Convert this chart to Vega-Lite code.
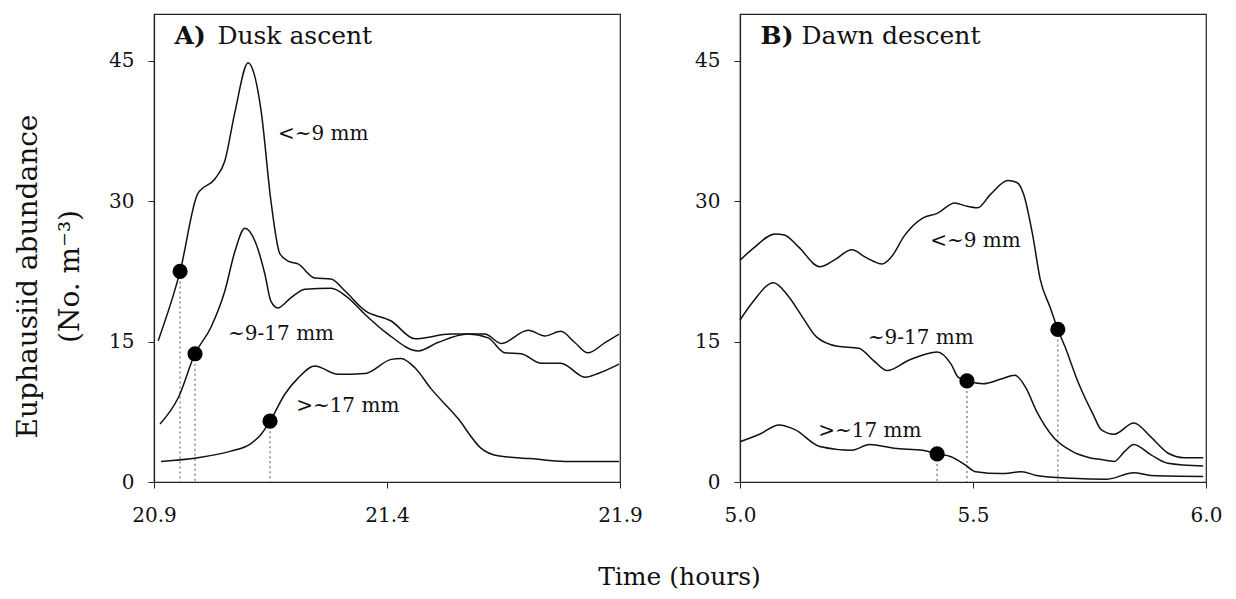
{
  "$schema": "https://vega.github.io/schema/vega-lite/v6.json",
  "background": "white",
  "padding": {"left": 13, "top": 13, "right": 5, "bottom": 8},
  "datasets": {
    "linesA": [
      {"series": "small", "t": 20.909, "v": 15.1}, {"series": "small", "t": 20.956, "v": 22.5}, {"series": "small", "t": 20.994, "v": 30.8}, {"series": "small", "t": 21.031, "v": 32.4}, {"series": "small", "t": 21.052, "v": 34.3}, {"series": "small", "t": 21.074, "v": 39.6}, {"series": "small", "t": 21.102, "v": 44.8}, {"series": "small", "t": 21.117, "v": 43.2}, {"series": "small", "t": 21.130, "v": 39.6}, {"series": "small", "t": 21.151, "v": 30.0}, {"series": "small", "t": 21.170, "v": 24.4}, {"series": "small", "t": 21.188, "v": 23.6}, {"series": "small", "t": 21.209, "v": 23.3}, {"series": "small", "t": 21.245, "v": 21.8}, {"series": "small", "t": 21.280, "v": 21.7}, {"series": "small", "t": 21.310, "v": 20.4}, {"series": "small", "t": 21.353, "v": 18.3}, {"series": "small", "t": 21.409, "v": 17.2}, {"series": "small", "t": 21.460, "v": 15.3}, {"series": "small", "t": 21.537, "v": 15.8}, {"series": "small", "t": 21.589, "v": 15.8}, {"series": "small", "t": 21.610, "v": 15.8}, {"series": "small", "t": 21.645, "v": 14.8}, {"series": "small", "t": 21.703, "v": 16.2}, {"series": "small", "t": 21.739, "v": 15.6}, {"series": "small", "t": 21.773, "v": 16.1}, {"series": "small", "t": 21.803, "v": 14.9}, {"series": "small", "t": 21.831, "v": 13.8}, {"series": "small", "t": 21.868, "v": 14.9}, {"series": "small", "t": 21.898, "v": 15.8},
      {"series": "mid", "t": 20.913, "v": 6.2}, {"series": "mid", "t": 20.952, "v": 9.0}, {"series": "mid", "t": 20.988, "v": 13.7}, {"series": "mid", "t": 21.022, "v": 16.5}, {"series": "mid", "t": 21.052, "v": 20.4}, {"series": "mid", "t": 21.074, "v": 24.7}, {"series": "mid", "t": 21.095, "v": 27.1}, {"series": "mid", "t": 21.117, "v": 25.7}, {"series": "mid", "t": 21.138, "v": 22.2}, {"series": "mid", "t": 21.151, "v": 19.3}, {"series": "mid", "t": 21.166, "v": 18.6}, {"series": "mid", "t": 21.194, "v": 19.7}, {"series": "mid", "t": 21.224, "v": 20.6}, {"series": "mid", "t": 21.280, "v": 20.7}, {"series": "mid", "t": 21.316, "v": 19.7}, {"series": "mid", "t": 21.353, "v": 17.9}, {"series": "mid", "t": 21.402, "v": 15.8}, {"series": "mid", "t": 21.467, "v": 14.0}, {"series": "mid", "t": 21.509, "v": 14.9}, {"series": "mid", "t": 21.574, "v": 15.8}, {"series": "mid", "t": 21.617, "v": 15.4}, {"series": "mid", "t": 21.653, "v": 13.8}, {"series": "mid", "t": 21.688, "v": 13.7}, {"series": "mid", "t": 21.730, "v": 12.7}, {"series": "mid", "t": 21.773, "v": 12.7}, {"series": "mid", "t": 21.825, "v": 11.2}, {"series": "mid", "t": 21.853, "v": 11.6}, {"series": "mid", "t": 21.898, "v": 12.6},
      {"series": "large", "t": 20.915, "v": 2.2}, {"series": "large", "t": 20.994, "v": 2.6}, {"series": "large", "t": 21.065, "v": 3.3}, {"series": "large", "t": 21.108, "v": 4.1}, {"series": "large", "t": 21.130, "v": 5.1}, {"series": "large", "t": 21.149, "v": 6.5}, {"series": "large", "t": 21.181, "v": 9.4}, {"series": "large", "t": 21.209, "v": 11.1}, {"series": "large", "t": 21.245, "v": 12.4}, {"series": "large", "t": 21.295, "v": 11.5}, {"series": "large", "t": 21.353, "v": 11.6}, {"series": "large", "t": 21.409, "v": 13.1}, {"series": "large", "t": 21.430, "v": 13.2}, {"series": "large", "t": 21.460, "v": 12.2}, {"series": "large", "t": 21.494, "v": 10.0}, {"series": "large", "t": 21.552, "v": 6.8}, {"series": "large", "t": 21.602, "v": 3.6}, {"series": "large", "t": 21.638, "v": 2.8}, {"series": "large", "t": 21.709, "v": 2.5}, {"series": "large", "t": 21.782, "v": 2.2}, {"series": "large", "t": 21.898, "v": 2.2}
    ],
    "dotsA": [
      {"series": "small", "t": 20.956, "v": 22.5},
      {"series": "mid", "t": 20.988, "v": 13.7},
      {"series": "large", "t": 21.149, "v": 6.5}
    ],
    "labelsA": [
      {"t": 21.166, "v": 37.2, "label": "<~9 mm"},
      {"t": 21.059, "v": 15.8, "label": "~9-17 mm"},
      {"t": 21.205, "v": 8.1, "label": ">~17 mm"}
    ],
    "linesB": [
      {"series": "small", "t": 5.0, "v": 23.7}, {"series": "small", "t": 5.027, "v": 24.9}, {"series": "small", "t": 5.076, "v": 26.5}, {"series": "small", "t": 5.095, "v": 26.4}, {"series": "small", "t": 5.126, "v": 25.1}, {"series": "small", "t": 5.171, "v": 23.0}, {"series": "small", "t": 5.202, "v": 23.7}, {"series": "small", "t": 5.24, "v": 24.8}, {"series": "small", "t": 5.27, "v": 24.0}, {"series": "small", "t": 5.305, "v": 23.3}, {"series": "small", "t": 5.324, "v": 24.0}, {"series": "small", "t": 5.354, "v": 26.4}, {"series": "small", "t": 5.392, "v": 28.2}, {"series": "small", "t": 5.423, "v": 28.7}, {"series": "small", "t": 5.461, "v": 29.8}, {"series": "small", "t": 5.484, "v": 29.5}, {"series": "small", "t": 5.51, "v": 29.3}, {"series": "small", "t": 5.537, "v": 30.7}, {"series": "small", "t": 5.575, "v": 32.2}, {"series": "small", "t": 5.594, "v": 32.0}, {"series": "small", "t": 5.609, "v": 30.7}, {"series": "small", "t": 5.628, "v": 26.4}, {"series": "small", "t": 5.644, "v": 21.7}, {"series": "small", "t": 5.666, "v": 18.6}, {"series": "small", "t": 5.682, "v": 16.3}, {"series": "small", "t": 5.697, "v": 14.5}, {"series": "small", "t": 5.727, "v": 10.5}, {"series": "small", "t": 5.758, "v": 7.2}, {"series": "small", "t": 5.775, "v": 5.6}, {"series": "small", "t": 5.803, "v": 5.1}, {"series": "small", "t": 5.845, "v": 6.3}, {"series": "small", "t": 5.882, "v": 4.8}, {"series": "small", "t": 5.918, "v": 3.1}, {"series": "small", "t": 5.953, "v": 2.6}, {"series": "small", "t": 5.994, "v": 2.6},
      {"series": "mid", "t": 5.0, "v": 17.3}, {"series": "mid", "t": 5.027, "v": 19.2}, {"series": "mid", "t": 5.072, "v": 21.3}, {"series": "mid", "t": 5.103, "v": 19.9}, {"series": "mid", "t": 5.133, "v": 17.7}, {"series": "mid", "t": 5.164, "v": 15.5}, {"series": "mid", "t": 5.209, "v": 14.5}, {"series": "mid", "t": 5.255, "v": 14.3}, {"series": "mid", "t": 5.286, "v": 13.0}, {"series": "mid", "t": 5.316, "v": 11.9}, {"series": "mid", "t": 5.362, "v": 13.0}, {"series": "mid", "t": 5.423, "v": 13.9}, {"series": "mid", "t": 5.453, "v": 12.6}, {"series": "mid", "t": 5.468, "v": 11.2}, {"series": "mid", "t": 5.487, "v": 10.8}, {"series": "mid", "t": 5.522, "v": 10.5}, {"series": "mid", "t": 5.56, "v": 11.0}, {"series": "mid", "t": 5.59, "v": 11.4}, {"series": "mid", "t": 5.613, "v": 10.1}, {"series": "mid", "t": 5.636, "v": 7.6}, {"series": "mid", "t": 5.674, "v": 4.7}, {"series": "mid", "t": 5.712, "v": 3.3}, {"series": "mid", "t": 5.75, "v": 2.6}, {"series": "mid", "t": 5.775, "v": 2.4}, {"series": "mid", "t": 5.803, "v": 2.2}, {"series": "mid", "t": 5.826, "v": 3.3}, {"series": "mid", "t": 5.845, "v": 4.0}, {"series": "mid", "t": 5.882, "v": 2.9}, {"series": "mid", "t": 5.918, "v": 2.0}, {"series": "mid", "t": 5.994, "v": 1.7},
      {"series": "large", "t": 5.0, "v": 4.3}, {"series": "large", "t": 5.042, "v": 5.1}, {"series": "large", "t": 5.084, "v": 6.1}, {"series": "large", "t": 5.118, "v": 5.6}, {"series": "large", "t": 5.171, "v": 3.8}, {"series": "large", "t": 5.24, "v": 3.4}, {"series": "large", "t": 5.278, "v": 4.0}, {"series": "large", "t": 5.331, "v": 3.6}, {"series": "large", "t": 5.392, "v": 3.4}, {"series": "large", "t": 5.423, "v": 3.0}, {"series": "large", "t": 5.453, "v": 2.7}, {"series": "large", "t": 5.484, "v": 1.8}, {"series": "large", "t": 5.506, "v": 1.1}, {"series": "large", "t": 5.56, "v": 0.9}, {"series": "large", "t": 5.605, "v": 1.1}, {"series": "large", "t": 5.636, "v": 0.7}, {"series": "large", "t": 5.712, "v": 0.4}, {"series": "large", "t": 5.788, "v": 0.3}, {"series": "large", "t": 5.845, "v": 1.0}, {"series": "large", "t": 5.882, "v": 0.7}, {"series": "large", "t": 5.994, "v": 0.6}
    ],
    "dotsB": [
      {"series": "small", "t": 5.682, "v": 16.3},
      {"series": "mid", "t": 5.487, "v": 10.8},
      {"series": "large", "t": 5.423, "v": 3.0}
    ],
    "labelsB": [
      {"t": 5.408, "v": 25.8, "label": "<~9 mm"},
      {"t": 5.274, "v": 15.4, "label": "~9-17 mm"},
      {"t": 5.168, "v": 5.4, "label": ">~17 mm"}
    ],
    "titleA": [{"t": 20.944, "v": 47.6, "label": "A)"}],
    "titleA2": [{"t": 21.036, "v": 47.6, "label": "Dusk ascent"}],
    "titleB": [{"t": 5.044, "v": 47.6, "label": "B)"}],
    "titleB2": [{"t": 5.132, "v": 47.6, "label": "Dawn descent"}]
  },
  "spacing": 120,
  "bounds": "flush",
  "hconcat": [
    {
      "width": 466,
      "height": 468,
      "layer": [
        {
          "data": {"name": "dotsA"},
          "mark": {"type": "rule", "color": "#8a8a8a", "strokeDash": [2, 3], "strokeWidth": 1.5},
          "encoding": {
            "x": {"field": "t", "type": "quantitative", "scale": {"domain": [20.9, 21.9], "nice": false, "zero": false}},
            "y": {"field": "v", "type": "quantitative", "scale": {"domain": [0, 50], "nice": false}},
            "y2": {"datum": 0}
          }
        },
        {
          "data": {"name": "linesA"},
          "mark": {"type": "line", "color": "#111", "strokeWidth": 1.5, "interpolate": "monotone"},
          "encoding": {
            "x": {"field": "t", "type": "quantitative", "axis": {"values": [20.9, 21.4, 21.9], "format": ".1f", "title": "Time (hours)", "titleX": 525, "titleY": 94, "titleAlign": "center", "titleBaseline": "middle", "titleFontSize": 25}},
            "y": {"field": "v", "type": "quantitative", "axis": {"values": [0, 15, 30, 45], "format": "d", "title": ["Euphausiid abundance", "(No. m⁻³)"], "titleY": 262}},
            "detail": {"field": "series"}
          }
        },
        {
          "data": {"name": "dotsA"},
          "mark": {"type": "circle", "color": "#000", "opacity": 1, "size": 230},
          "encoding": {
            "x": {"field": "t", "type": "quantitative"},
            "y": {"field": "v", "type": "quantitative"}
          }
        },
        {
          "data": {"name": "labelsA"},
          "mark": {"type": "text", "align": "left", "baseline": "middle", "font": "DejaVu Serif", "fontSize": 20, "color": "#111"},
          "encoding": {
            "x": {"field": "t", "type": "quantitative"},
            "y": {"field": "v", "type": "quantitative"},
            "text": {"field": "label"}
          }
        },
        {
          "data": {"name": "titleA"},
          "mark": {"type": "text", "align": "left", "baseline": "middle", "font": "DejaVu Serif", "fontSize": 25, "fontWeight": "bold", "color": "#111"},
          "encoding": {
            "x": {"field": "t", "type": "quantitative"},
            "y": {"field": "v", "type": "quantitative"},
            "text": {"field": "label"}
          }
        },
        {
          "data": {"name": "titleA2"},
          "mark": {"type": "text", "align": "left", "baseline": "middle", "font": "DejaVu Serif", "fontSize": 25, "color": "#111"},
          "encoding": {
            "x": {"field": "t", "type": "quantitative"},
            "y": {"field": "v", "type": "quantitative"},
            "text": {"field": "label"}
          }
        }
      ]
    },
    {
      "width": 466,
      "height": 468,
      "layer": [
        {
          "data": {"name": "dotsB"},
          "mark": {"type": "rule", "color": "#8a8a8a", "strokeDash": [2, 3], "strokeWidth": 1.5},
          "encoding": {
            "x": {"field": "t", "type": "quantitative", "scale": {"domain": [5.0, 6.0], "nice": false, "zero": false}},
            "y": {"field": "v", "type": "quantitative", "scale": {"domain": [0, 50], "nice": false}},
            "y2": {"datum": 0}
          }
        },
        {
          "data": {"name": "linesB"},
          "mark": {"type": "line", "color": "#111", "strokeWidth": 1.5, "interpolate": "monotone"},
          "encoding": {
            "x": {"field": "t", "type": "quantitative", "axis": {"values": [5.0, 5.5, 6.0], "format": ".1f", "title": null}},
            "y": {"field": "v", "type": "quantitative", "axis": {"values": [0, 15, 30, 45], "format": "d", "title": null}},
            "detail": {"field": "series"}
          }
        },
        {
          "data": {"name": "dotsB"},
          "mark": {"type": "circle", "color": "#000", "opacity": 1, "size": 230},
          "encoding": {
            "x": {"field": "t", "type": "quantitative"},
            "y": {"field": "v", "type": "quantitative"}
          }
        },
        {
          "data": {"name": "labelsB"},
          "mark": {"type": "text", "align": "left", "baseline": "middle", "font": "DejaVu Serif", "fontSize": 20, "color": "#111"},
          "encoding": {
            "x": {"field": "t", "type": "quantitative"},
            "y": {"field": "v", "type": "quantitative"},
            "text": {"field": "label"}
          }
        },
        {
          "data": {"name": "titleB"},
          "mark": {"type": "text", "align": "left", "baseline": "middle", "font": "DejaVu Serif", "fontSize": 25, "fontWeight": "bold", "color": "#111"},
          "encoding": {
            "x": {"field": "t", "type": "quantitative"},
            "y": {"field": "v", "type": "quantitative"},
            "text": {"field": "label"}
          }
        },
        {
          "data": {"name": "titleB2"},
          "mark": {"type": "text", "align": "left", "baseline": "middle", "font": "DejaVu Serif", "fontSize": 25, "color": "#111"},
          "encoding": {
            "x": {"field": "t", "type": "quantitative"},
            "y": {"field": "v", "type": "quantitative"},
            "text": {"field": "label"}
          }
        }
      ]
    }
  ],
  "config": {
    "view": {"stroke": "#222", "strokeWidth": 1.2},
    "axis": {
      "grid": false,
      "domainColor": "#222",
      "domainWidth": 1.2,
      "tickColor": "#222",
      "tickSize": 6,
      "labelFont": "DejaVu Serif",
      "labelFontSize": 20,
      "labelColor": "#111",
      "labelFlush": false,
      "labelOverlap": false,
      "titleFont": "DejaVu Serif",
      "titleFontSize": 28,
      "titleFontWeight": "normal",
      "titleColor": "#111"
    },
    "axisX": {"labelPadding": 17},
    "axisY": {"labelPadding": 14, "titlePadding": 24, "titleLineHeight": 42}
  }
}
